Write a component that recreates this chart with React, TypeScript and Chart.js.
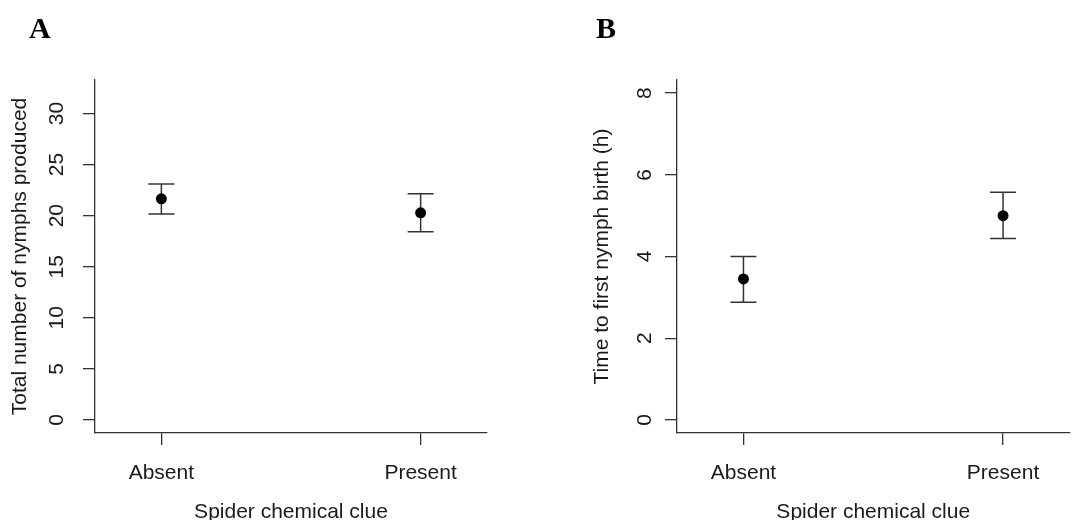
import React, { useEffect, useRef } from "react";
import { Chart, registerables } from "chart.js";

Chart.register(...registerables);

// ---- Data ----
const categories = ["Absent", "Present"];

const nymphsMean = [21.65, 20.28];
const nymphsUpper = [23.1, 22.14];
const nymphsLower = [20.15, 18.43];
const nymphsTicks = [0, 5, 10, 15, 20, 25, 30];
const nymphsLimits = [-1.28, 33.28];

const timeMean = [3.45, 5.0];
const timeUpper = [4.0, 5.57];
const timeLower = [2.88, 4.44];
const timeTicks = [0, 2, 4, 6, 8];
const timeLimits = [-0.32, 8.32];

const xLimits = [0.744, 2.256];

const xTitle = "Spider chemical clue";
const yTitleA = "Total number of nymphs produced";
const yTitleB = "Time to first nymph birth (h)";

const SANS = "'Liberation Sans', Arial, sans-serif";
const INK = "#1a1a1a";
const AXIS = "#333333";

const errorBarPlugin = {
  id: "errorBars",
  beforeDatasetsDraw(chart: any, _args: any, opts: any) {
    const { ctx, scales } = chart;
    const x = scales.x;
    const y = scales.y;
    if (!opts || !opts.lower) return;
    ctx.save();
    ctx.strokeStyle = AXIS;
    ctx.lineWidth = 1.5;
    const cap = 13;
    opts.lower.forEach((lo: number, i: number) => {
      const px = x.getPixelForValue(i + 1);
      const pLo = y.getPixelForValue(lo);
      const pHi = y.getPixelForValue(opts.upper[i]);
      ctx.beginPath();
      ctx.moveTo(px, pLo);
      ctx.lineTo(px, pHi);
      ctx.moveTo(px - cap, pLo);
      ctx.lineTo(px + cap, pLo);
      ctx.moveTo(px - cap, pHi);
      ctx.lineTo(px + cap, pHi);
      ctx.stroke();
    });
    ctx.restore();
  },
};

type PanelProps = {
  left: number;
  width: number;
  padRight: number;
  yTitle: string;
  means: number[];
  upper: number[];
  lower: number[];
  ticks: number[];
  limits: number[];
};

function Panel(props: PanelProps) {
  const ref = useRef<HTMLCanvasElement | null>(null);
  useEffect(() => {
    if (!ref.current) return;
    const { means, upper, lower, ticks, limits, yTitle, padRight } = props;
    const chart = new Chart(ref.current, {
      type: "scatter",
      data: {
        datasets: [
          {
            data: means.map((m, i) => ({ x: i + 1, y: m })),
            pointRadius: 5.5,
            pointHoverRadius: 5.5,
            backgroundColor: "#000",
            borderColor: "#000",
            borderWidth: 0,
            showLine: false,
          },
        ],
      },
      options: {
        responsive: false,
        animation: false,
        events: [],
        layout: { padding: { top: 80, right: padRight, bottom: 0, left: 0 } },
        plugins: {
          legend: { display: false },
          tooltip: { enabled: false },
          errorBars: { lower, upper },
        } as any,
        scales: {
          x: {
            type: "linear",
            min: xLimits[0],
            max: xLimits[1],
            afterBuildTicks: (s: any) => {
              s.ticks = categories.map((_, i) => ({ value: i + 1 }));
            },
            afterFit: (s: any) => {
              s.height = 87;
            },
            border: { display: true, color: AXIS, width: 1.3 },
            grid: {
              drawOnChartArea: false,
              drawTicks: true,
              tickLength: 12,
              color: AXIS,
              lineWidth: 1.3,
            },
            ticks: {
              autoSkip: false,
              maxRotation: 0,
              padding: 16,
              color: INK,
              font: { family: SANS, size: 21 },
              callback: (v: any) => categories[Math.round(Number(v)) - 1],
            },
            title: {
              display: true,
              text: xTitle,
              color: INK,
              font: { family: SANS, size: 21, lineHeight: 0.7 },
              padding: { top: 0, bottom: 0 },
            },
          },
          y: {
            type: "linear",
            min: limits[0],
            max: limits[1],
            afterBuildTicks: (s: any) => {
              s.ticks = ticks.map((v) => ({ value: v }));
            },
            afterFit: (s: any) => {
              s.width = 95;
            },
            border: { display: true, color: AXIS, width: 1.3 },
            grid: {
              drawOnChartArea: false,
              drawTicks: true,
              tickLength: 12,
              color: AXIS,
              lineWidth: 1.3,
            },
            ticks: {
              minRotation: 90,
              maxRotation: 90,
              crossAlign: "center",
              padding: 14,
              color: INK,
              font: { family: SANS, size: 21 },
            },
            title: {
              display: true,
              text: yTitle,
              color: INK,
              font: { family: SANS, size: 21, lineHeight: 1 },
              padding: { top: 10, bottom: 0 },
            },
          },
        },
      } as any,
      plugins: [errorBarPlugin],
    });
    return () => chart.destroy();
  }, []);
  return (
    <canvas
      ref={ref}
      width={props.width}
      height={520}
      style={{ position: "absolute", left: props.left, top: 0, width: props.width, height: 520 }}
    />
  );
}

const labelStyle: React.CSSProperties = {
  position: "absolute",
  top: 13,
  fontFamily: "'Liberation Serif', 'Times New Roman', serif",
  fontWeight: "bold",
  fontSize: 30,
  lineHeight: "30px",
  color: "#000",
};

export default function App() {
  return (
    <div
      style={{
        position: "fixed",
        left: 0,
        top: 0,
        width: 1075,
        height: 520,
        background: "#fff",
        overflow: "hidden",
      }}
    >
      <Panel
        left={0}
        width={540}
        padRight={53}
        yTitle={yTitleA}
        means={nymphsMean}
        upper={nymphsUpper}
        lower={nymphsLower}
        ticks={nymphsTicks}
        limits={nymphsLimits}
      />
      <Panel
        left={582}
        width={493}
        padRight={3}
        yTitle={yTitleB}
        means={timeMean}
        upper={timeUpper}
        lower={timeLower}
        ticks={timeTicks}
        limits={timeLimits}
      />
      <div style={{ ...labelStyle, left: 29 }}>A</div>
      <div style={{ ...labelStyle, left: 596 }}>B</div>
    </div>
  );
}
